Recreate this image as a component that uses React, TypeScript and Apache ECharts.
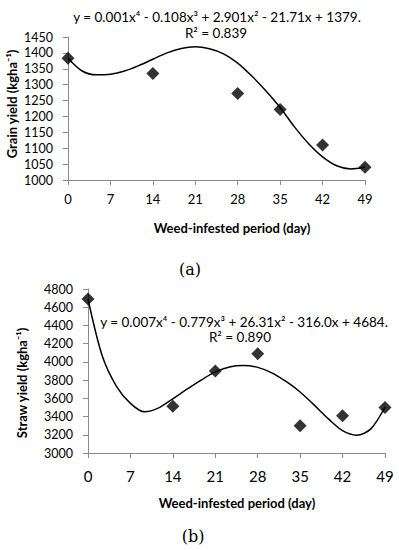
import React, { useEffect, useRef } from "react";
import * as echarts from "echarts";

// (a) Grain yield
const grainDays = [0, 14, 28, 35, 42, 49];
const grainYield = [1383, 1335, 1272, 1222, 1110, 1040];
// trend curve
const grainTrendDays = [0, 2.33, 4.67, 7, 9.33, 11.67, 14, 16.33, 18.67, 21, 23.33, 25.67, 28, 30.33, 32.67, 35, 37.33, 39.67, 42, 44.33, 46.67, 49];
const grainTrend = [1383, 1343, 1331, 1333, 1343, 1360, 1380, 1400, 1414, 1419, 1413, 1397, 1368, 1327, 1280, 1228, 1168, 1115, 1073, 1045, 1035, 1040];

// (b) Straw yield
const strawDays = [0, 14, 21, 28, 35, 42, 49];
const strawYield = [4690, 3512, 3900, 4090, 3300, 3410, 3500];
const strawTrendDays = [0, 2.33, 4.67, 7, 9.33, 11.67, 14, 16.33, 18.67, 21, 23.33, 25.67, 28, 30.33, 32.67, 35, 37.33, 39.67, 42, 44.33, 46.67, 49];
const strawTrend = [4690, 4070, 3735, 3545, 3452, 3495, 3595, 3700, 3800, 3890, 3945, 3960, 3940, 3880, 3785, 3670, 3525, 3375, 3245, 3195, 3265, 3505];

const xTicks = { min: 0, max: 49, interval: 7 };
const grainAxis = { min: 1000, max: 1450, interval: 50 };
const strawAxis = { min: 3000, max: 4800, interval: 200 };

const grainEquation = "y = 0.001x⁴ - 0.108x³ + 2.901x² - 21.71x + 1379.";
const grainR2 = "R² = 0.839";
const strawEquation = "y = 0.007x⁴ - 0.779x³ + 26.31x² - 316.0x + 4684.";
const strawR2 = "R² = 0.890";

const FONT = "Lato, 'DejaVu Sans', sans-serif";
const AXIS_COLOR = "#8a8a8a";

export default function App() {
  const ref = useRef<HTMLDivElement>(null);
  useEffect(() => {
    if (!ref.current) return;
    const chart = echarts.init(ref.current, undefined, { renderer: "svg" });
    const zip = (xs: number[], ys: number[]) => xs.map((x, i) => [x, ys[i]]);
    const plain = (v: number) => String(v);
    const xAxisBase = (idx: number, fontSize: number, margin: number) => ({
      type: "value",
      gridIndex: idx,
      min: xTicks.min,
      max: xTicks.max,
      interval: xTicks.interval,
      splitLine: { show: false },
      axisLine: { onZero: false, lineStyle: { color: AXIS_COLOR, width: 1 } },
      axisTick: { show: true, length: 5, lineStyle: { color: AXIS_COLOR } },
      axisLabel: { color: "#000", fontFamily: FONT, fontSize, margin, formatter: plain },
    });
    const yAxisBase = (idx: number, r: { min: number; max: number; interval: number }) => ({
      type: "value",
      gridIndex: idx,
      min: r.min,
      max: r.max,
      interval: r.interval,
      splitLine: { show: false },
      axisLine: { show: true, lineStyle: { color: AXIS_COLOR, width: 1 } },
      axisTick: { show: true, length: 5, lineStyle: { color: AXIS_COLOR } },
      axisLabel: { color: "#000", fontFamily: FONT, fontSize: 12.5, margin: 15, formatter: plain },
    });
    const txt = (text: string, x: number, y: number, fontSize: number, extra: any = {}) => ({
      type: "text",
      x,
      y,
      rotation: extra.rotation || 0,
      style: {
        text,
        fill: "#000",
        fontFamily: extra.fontFamily || FONT,
        fontSize,
        fontWeight: extra.fontWeight || "normal",
        align: "center",
        verticalAlign: "middle",
      },
    });
    chart.setOption({
      animation: false,
      backgroundColor: "#fff",
      grid: [
        { left: 68, right: 34, top: 37, height: 143 },
        { left: 88, right: 14, top: 289, height: 164 },
      ],
      xAxis: [xAxisBase(0, 13, 12), xAxisBase(1, 15, 15)],
      yAxis: [yAxisBase(0, grainAxis), yAxisBase(1, strawAxis)],
      series: [
        {
          type: "line",
          xAxisIndex: 0,
          yAxisIndex: 0,
          data: zip(grainTrendDays, grainTrend),
          smooth: 0.3,
          showSymbol: false,
          lineStyle: { color: "#000", width: 1.5 },
          z: 2,
        },
        {
          type: "scatter",
          xAxisIndex: 0,
          yAxisIndex: 0,
          data: zip(grainDays, grainYield),
          symbol: "diamond",
          symbolSize: 13,
          itemStyle: { color: "#000" },
          z: 3,
        },
        {
          type: "line",
          xAxisIndex: 1,
          yAxisIndex: 1,
          data: zip(strawTrendDays, strawTrend),
          smooth: 0.3,
          showSymbol: false,
          lineStyle: { color: "#000", width: 1.5 },
          z: 2,
        },
        {
          type: "scatter",
          xAxisIndex: 1,
          yAxisIndex: 1,
          data: zip(strawDays, strawYield),
          symbol: "diamond",
          symbolSize: 13,
          itemStyle: { color: "#000" },
          z: 3,
        },
      ],
      graphic: [
        txt(grainEquation, 217, 17, 13.5),
        txt(grainR2, 216, 33, 13.5),
        txt("Weed-infested period (day)", 232, 228, 13, { fontWeight: "bold" }),
        txt("Grain yield (kgha⁻¹)", 12, 104, 13, { fontWeight: "bold", rotation: Math.PI / 2 }),
        txt("(a)", 190, 269, 16, { fontFamily: "'DejaVu Serif', 'Liberation Serif', serif" }),
        txt(strawEquation, 244, 322, 13.5),
        txt(strawR2, 240, 337, 13.5),
        txt("Weed-infested period (day)", 237, 503, 13, { fontWeight: "bold" }),
        txt("Straw yield (kgha⁻¹)", 22, 383, 13, { fontWeight: "bold", rotation: Math.PI / 2 }),
        txt("(b)", 193, 536, 16, { fontFamily: "'DejaVu Serif', 'Liberation Serif', serif" }),
      ],
    });
    return () => chart.dispose();
  }, []);
  return (
    <div
      ref={ref}
      style={{ position: "absolute", left: 0, top: 0, width: 399, height: 550, background: "#fff" }}
    />
  );
}
